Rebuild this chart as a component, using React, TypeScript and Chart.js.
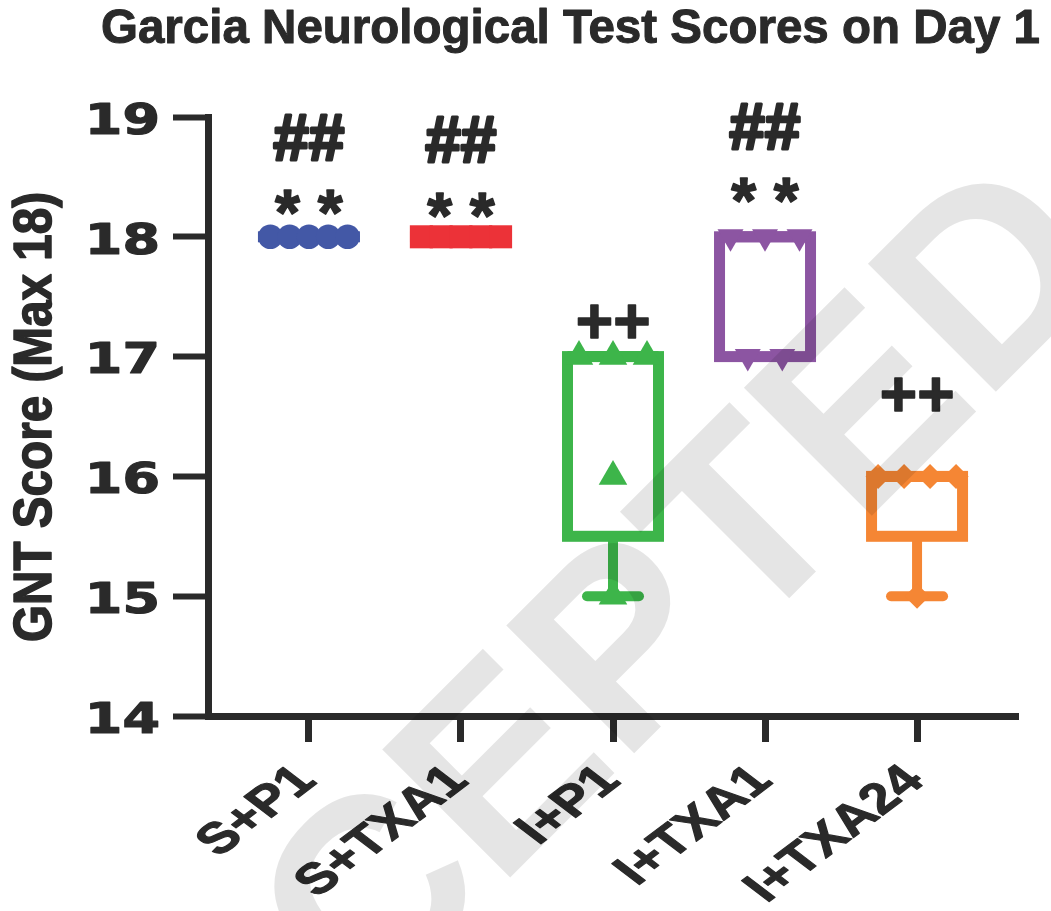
import React, { useEffect, useRef } from 'react';
import { Chart, registerables } from 'chart.js';

Chart.register(...registerables);

// ---------- data ----------
const categories = ['S+P1', 'S+TXA1', 'I+P1', 'I+TXA1', 'I+TXA24'];
const sP1Scores = [18, 18, 18, 18, 18];
const sTXA1Scores = [18, 18, 18, 18, 18];
const iP1Scores = [17, 17, 17, 16, 15];
const iTXA1Scores = [18, 18, 18, 17, 17];
const iTXA24Scores = [16, 16, 16, 16, 15];
const groupScores = [sP1Scores, sTXA1Scores, iP1Scores, iTXA1Scores, iTXA24Scores];
const yTickValues = [14, 15, 16, 17, 18, 19];

const titleText = 'Garcia Neurological Test Scores on Day 1';
const yTitleText = 'GNT Score (Max 18)';
const watermarkText = 'ACCEPTED';

const hashLabels = ['##', '##', '', '##', ''];
const starLabels = ['* *', '* *', '', '* *', ''];
const plusLabels = ['', '', '++', '', '++'];

// ---------- layout / style ----------
const hashY = [18.83, 18.81, null, 18.92, null];
const starY = [18.29, 18.265, null, 18.39, null];
const plusY = [null, null, 17.3, null, 16.69];

const DARK = '#2a2a2a';
const colors = ['#4358a6', '#ec3238', '#3db54a', '#8c55a2', '#f58634'];
const pointStyles = ['circle', 'rect', 'triangle', 'triangle', 'rectRot'];
const pointRotations = [0, 0, 0, 180, 0];
const pointRadii = [12.3, 16.3, 16.5, 15, 12.5];
const spreadPx = [19.3, 19.8, 34, 34.5, 26];
const X_MIN = -0.664;
const X_MAX = 4.664;
const PX_PER_UNIT = 152;
const BOX_HALF = 45.5;
const CAP_HALF = 26;

function quantile(sorted: number[], p: number) {
  const n = sorted.length;
  const pos = p * (n + 1);
  if (pos <= 1) return sorted[0];
  if (pos >= n) return sorted[n - 1];
  const lo = Math.floor(pos);
  const f = pos - lo;
  return sorted[lo - 1] + f * (sorted[lo] - sorted[lo - 1]);
}

function spreadPoints(vals: number[], gi: number) {
  const counts: Record<number, number> = {};
  vals.forEach((v) => (counts[v] = (counts[v] || 0) + 1));
  const seen: Record<number, number> = {};
  return vals.map((v) => {
    const k = counts[v];
    const j = seen[v] || 0;
    seen[v] = j + 1;
    const off = (j - (k - 1) / 2) * spreadPx[gi];
    return { x: gi + off / PX_PER_UNIT, y: v };
  });
}

function boldText(ctx: CanvasRenderingContext2D, text: string, x: number, y: number, sw: number) {
  ctx.fillText(text, x, y);
  if (sw > 0) {
    ctx.lineWidth = sw;
    ctx.lineJoin = 'round';
    ctx.strokeStyle = ctx.fillStyle as string;
    ctx.strokeText(text, x, y);
  }
}

function drawCentered(ctx: CanvasRenderingContext2D, text: string, cx: number, cy: number, sw: number) {
  ctx.textAlign = 'left';
  ctx.textBaseline = 'alphabetic';
  const m = ctx.measureText(text);
  const x0 = cx - (m.actualBoundingBoxRight - m.actualBoundingBoxLeft) / 2;
  const y0 = cy + (m.actualBoundingBoxAscent - m.actualBoundingBoxDescent) / 2;
  boldText(ctx, text, x0, y0, sw);
}

const boxPlugin = {
  id: 'boxes',
  beforeDatasetsDraw(chart: any) {
    const ctx: CanvasRenderingContext2D = chart.ctx;
    const xs = chart.scales.x;
    const ys = chart.scales.y;
    ctx.save();
    groupScores.forEach((vals, i) => {
      const s = [...vals].sort((a, b) => a - b);
      const q1 = quantile(s, 0.25);
      const med = quantile(s, 0.5);
      const q3 = quantile(s, 0.75);
      const mn = s[0];
      const mx = s[s.length - 1];
      const cx = xs.getPixelForValue(i);
      const top = ys.getPixelForValue(q3);
      const bot = ys.getPixelForValue(q1);
      ctx.strokeStyle = colors[i];
      ctx.fillStyle = colors[i];
      // whiskers
      ctx.lineWidth = 10;
      ctx.lineCap = 'butt';
      ctx.beginPath();
      if (mn < q1) {
        ctx.moveTo(cx, bot);
        ctx.lineTo(cx, ys.getPixelForValue(mn));
      }
      if (mx > q3) {
        ctx.moveTo(cx, top);
        ctx.lineTo(cx, ys.getPixelForValue(mx));
      }
      ctx.stroke();
      ctx.lineCap = 'round';
      ctx.beginPath();
      if (mn < q1) {
        const y = ys.getPixelForValue(mn);
        ctx.moveTo(cx - CAP_HALF, y);
        ctx.lineTo(cx + CAP_HALF, y);
      }
      if (mx > q3) {
        const y = ys.getPixelForValue(mx);
        ctx.moveTo(cx - CAP_HALF, y);
        ctx.lineTo(cx + CAP_HALF, y);
      }
      ctx.stroke();
      // box
      ctx.lineCap = 'butt';
      ctx.lineJoin = 'miter';
      ctx.lineWidth = 11;
      if (bot - top > 0.5) {
        ctx.strokeRect(cx - BOX_HALF, top, BOX_HALF * 2, bot - top);
      } else {
        ctx.fillRect(cx - BOX_HALF - 5.5, top - 5.5, BOX_HALF * 2 + 11, 11);
      }
      const my = ys.getPixelForValue(med);
      ctx.beginPath();
      ctx.moveTo(cx - BOX_HALF, my);
      ctx.lineTo(cx + BOX_HALF, my);
      ctx.stroke();
    });
    ctx.restore();
  },
};

const textPlugin = {
  id: 'texts',
  afterDraw(chart: any) {
    const ctx: CanvasRenderingContext2D = chart.ctx;
    const xs = chart.scales.x;
    const ys = chart.scales.y;
    ctx.save();
    ctx.fillStyle = DARK;

    // title
    ctx.font = 'bold 47.5px "Liberation Sans", Arial, sans-serif';
    ctx.textAlign = 'left';
    ctx.textBaseline = 'alphabetic';
    boldText(ctx, titleText, 101, 43, 1);

    // y axis title
    ctx.save();
    ctx.translate(51, 417);
    ctx.rotate(-Math.PI / 2);
    ctx.font = 'bold 53px "Liberation Sans", Arial, sans-serif';
    const w = ctx.measureText(yTitleText).width;
    ctx.scale(450 / w, 1);
    ctx.textAlign = 'center';
    ctx.textBaseline = 'alphabetic';
    boldText(ctx, yTitleText, 0, 0, 1.5);
    ctx.restore();

    // y tick labels
    ys.ticks.forEach((t: any) => {
      const py = ys.getPixelForValue(t.value);
      ctx.save();
      ctx.translate(160, py + 1);
      ctx.scale(1, 0.8);
      ctx.font = 'bold 54px "DejaVu Sans", sans-serif';
      ctx.textAlign = 'right';
      ctx.textBaseline = 'alphabetic';
      const lbl = String(t.value);
      const m = ctx.measureText(lbl);
      boldText(ctx, lbl, 0, m.actualBoundingBoxAscent / 2, 1.5);
      ctx.restore();
    });

    // x tick labels
    xs.ticks.forEach((t: any) => {
      const px = xs.getPixelForValue(t.value);
      const lbl = categories[t.value];
      ctx.save();
      ctx.translate(px - 18, 762);
      ctx.scale(1.16, 0.88);
      ctx.rotate(-Math.PI / 4);
      ctx.font = 'bold 49px "Liberation Sans", Arial, sans-serif';
      ctx.textAlign = 'right';
      ctx.textBaseline = 'alphabetic';
      const cap = ctx.measureText('H').actualBoundingBoxAscent;
      boldText(ctx, lbl, 0, cap, 1.2);
      ctx.restore();
    });

    // significance marks
    ctx.font = 'bold 64px "Liberation Sans", Arial, sans-serif';
    categories.forEach((_, i) => {
      const cx = xs.getPixelForValue(i);
      if (hashLabels[i] && hashY[i] != null) drawCentered(ctx, hashLabels[i], cx, ys.getPixelForValue(hashY[i] as number), 3);
      if (starLabels[i] && starY[i] != null) drawCentered(ctx, starLabels[i], cx, ys.getPixelForValue(starY[i] as number), 1.5);
      if (plusLabels[i] && plusY[i] != null) drawCentered(ctx, plusLabels[i], cx, ys.getPixelForValue(plusY[i] as number), 1.5);
    });

    // watermark
    ctx.save();
    ctx.translate(555, 730);
    ctx.rotate(-Math.PI / 4);
    ctx.font = 'bold 263px "Liberation Sans", Arial, sans-serif';
    ctx.fillStyle = 'rgba(0,0,0,0.1)';
    ctx.textAlign = 'center';
    ctx.textBaseline = 'middle';
    ctx.fillText(watermarkText, 0, 0);
    ctx.restore();

    ctx.restore();
  },
};

export default function App() {
  const canvasRef = useRef<HTMLCanvasElement | null>(null);

  useEffect(() => {
    if (!canvasRef.current) return;
    const datasets = groupScores.map((vals, i) => ({
      label: categories[i],
      data: spreadPoints(vals, i),
      pointStyle: pointStyles[i] as any,
      pointRotation: pointRotations[i],
      pointRadius: pointRadii[i],
      pointHoverRadius: pointRadii[i],
      pointBackgroundColor: colors[i],
      pointBorderColor: colors[i],
      pointBorderWidth: 0,
      backgroundColor: colors[i],
      borderColor: colors[i],
      showLine: false,
    }));

    const chart = new Chart(canvasRef.current, {
      type: 'scatter',
      data: { datasets },
      options: {
        animation: false,
        responsive: false,
        maintainAspectRatio: false,
        events: [],
        layout: { padding: { top: 117, right: 33, left: 0, bottom: 0 } },
        plugins: {
          legend: { display: false },
          tooltip: { enabled: false },
          title: { display: false },
        },
        scales: {
          x: {
            type: 'linear',
            min: X_MIN,
            max: X_MAX,
            afterBuildTicks: (s: any) => {
              s.ticks = categories.map((_, i) => ({ value: i }));
            },
            afterFit: (s: any) => {
              s.height = 195;
            },
            ticks: { display: false },
            grid: {
              display: true,
              drawOnChartArea: false,
              drawTicks: true,
              tickLength: 26,
              tickWidth: 7,
              tickColor: DARK,
            },
            border: { display: true, width: 7, color: DARK },
          },
          y: {
            type: 'linear',
            min: 14,
            max: 19,
            afterBuildTicks: (s: any) => {
              s.ticks = yTickValues.map((v) => ({ value: v }));
            },
            afterFit: (s: any) => {
              s.width = 208;
            },
            ticks: { display: false, stepSize: 1 },
            grid: {
              display: true,
              drawOnChartArea: false,
              drawTicks: true,
              tickLength: 35,
              tickWidth: 6,
              tickColor: DARK,
            },
            border: { display: true, width: 7, color: DARK },
          },
        },
      } as any,
      plugins: [boxPlugin, textPlugin],
    });
    return () => chart.destroy();
  }, []);

  return (
    <div style={{ position: 'absolute', left: 0, top: 0, width: 1051, height: 911, background: '#fff' }}>
      <canvas ref={canvasRef} width={1051} height={911} style={{ display: 'block' }} />
    </div>
  );
}
